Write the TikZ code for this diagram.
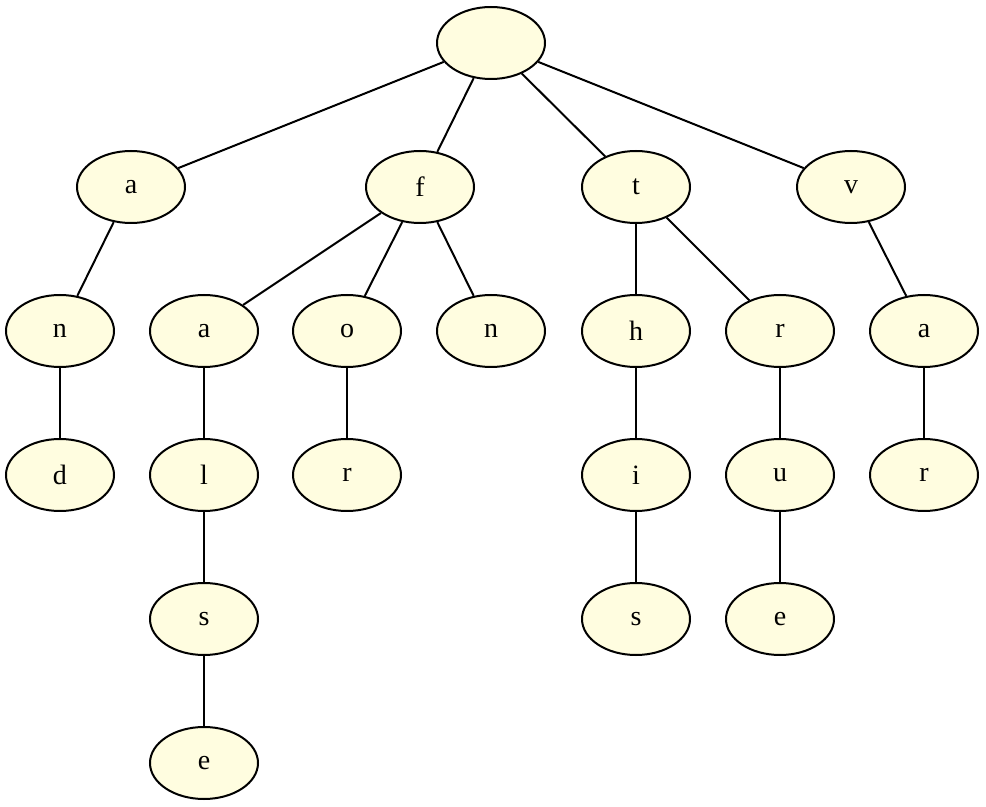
\documentclass[tikz,border=0pt]{standalone}
\usepackage{fontspec}
\setmainfont{Liberation Serif}
\usetikzlibrary{shapes.geometric}

\tikzset{
  trienode/.style={draw, ellipse, line width=1pt, fill=yellow!12,
    minimum width=54pt, minimum height=36pt, inner sep=0pt, font=\fontsize{14}{16}\selectfont},
  trieedge/.style={line width=1pt}
}

\begin{document}
\begin{tikzpicture}[x=0.5pt, y=-0.5pt]
  \useasboundingbox (0,0) rectangle (986,807);

  % root
  \node[trienode] (root) at (491,43) {};

  % first letters
  \node[trienode] (a)  at (131,187) {a};
  \node[trienode] (f)  at (420,187) {f};
  \node[trienode] (t)  at (636,187) {t};
  \node[trienode] (v)  at (851,187) {v};

  % second level
  \node[trienode] (an)  at (60,331)  {n};
  \node[trienode] (fa)  at (204,331) {a};
  \node[trienode] (fo)  at (347,331) {o};
  \node[trienode] (fn)  at (491,331) {n};
  \node[trienode] (th)  at (636,331) {h};
  \node[trienode] (tr)  at (780,331) {r};
  \node[trienode] (va)  at (924,331) {a};

  % third level
  \node[trienode] (and) at (60,475)  {d};
  \node[trienode] (fal) at (204,475) {l};
  \node[trienode] (for) at (347,475) {r};
  \node[trienode] (thi) at (636,475) {i};
  \node[trienode] (tru) at (780,475) {u};
  \node[trienode] (var) at (924,475) {r};

  % fourth and fifth level
  \node[trienode] (fals) at (204,619) {s};
  \node[trienode] (this) at (636,619) {s};
  \node[trienode] (true) at (780,619) {e};
  \node[trienode] (false) at (204,763) {e};

  \foreach \p/\c in {root/a, root/f, root/t, root/v,
                     a/an, an/and,
                     f/fa, f/fo, f/fn, fa/fal, fal/fals, fals/false, fo/for,
                     t/th, t/tr, th/thi, thi/this, tr/tru, tru/true,
                     v/va, va/var}
    \draw[trieedge] (\p) -- (\c);
\end{tikzpicture}
\end{document}
